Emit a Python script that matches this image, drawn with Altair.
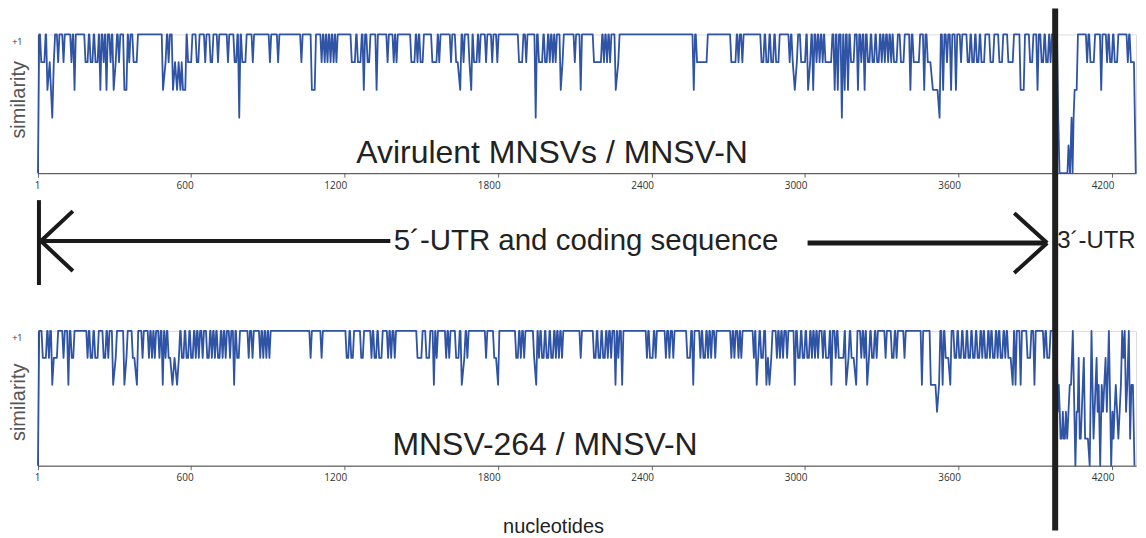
import altair as alt
import pandas as pd

# ---------------- data ----------------
tick_values = [1, 600, 1200, 1800, 2400, 3000, 3600, 4200]
x_domain = [1, 4294]
utr_boundary_nt = 3978

# (nucleotide, similarity) points where the similarity drops below +1
top_dips = [
    (1, 0), (14, .8), (20, .8), (26, .8), (38, .6), (47, .8), (57, .4), (63, .8), (80, .8), (101, .8), (132, .8), (144, .6),
    (187, .8), (195, .8), (207, .8), (214, .8), (226, .8), (234, .8), (245, .6), (258, .8), (269, .6), (285, .8), (297, .6),
    (305, .8), (318, .8), (339, .6), (347, .6), (358, .8), (375, .8), (381, .8), (387, .8),
    (490, .6), (500, .8), (512, .8), (529, .6), (537, .8), (545, .6), (551, .8), (558, .6), (563, .8), (568, .6), (577, .6),
    (588, .8), (594, .8), (600, .8), (622, .8), (628, .8), (655, .8), (676, .8), (682, .8), (705, .8), (744, .8), (770, .8),
    (776, .8), (788, .4), (800, .8), (806, .8), (812, .8), (841, .8), (908, .8), (940, .8),
    (1031, .8), (1072, .6), (1078, .6), (1083, .6), (1110, .8), (1122, .8), (1133, .8), (1145, .8), (1157, .8), (1168, .8),
    (1228, .8), (1234, .8), (1240, .8), (1252, .8), (1262, .8), (1275, .6), (1290, .8), (1296, .8), (1325, .6), (1368, .8),
    (1392, .8), (1403, .8), (1461, .8), (1467, .8), (1473, .8), (1485, .8), (1497, .8), (1505, .8), (1543, .8), (1549, .8),
    (1559, .8), (1570, .8), (1616, .8), (1636, .8), (1642, .8), (1652, .6), (1665, .8), (1688, .8), (1695, .6), (1706, .8),
    (1716, .8), (1727, .8), (1753, .8), (1777, .8), (1797, .8), (1882, .8), (1888, .8), (1894, .8), (1910, .8), (1947, .4),
    (1960, .8), (1966, .8), (1972, .8), (1984, .8), (1990, .8), (2002, .8), (2014, .8), (2025, .8), (2045, .6), (2052, .8),
    (2100, .8), (2123, .6), (2175, .8), (2181, .8), (2187, .8), (2193, .8), (2202, .8), (2214, .8), (2226, .8), (2238, .8),
    (2260, .6), (2270, .8), (2565, .6), (2578, .8), (2584, .8), (2590, .8), (2596, .8), (2603, .8), (2609, .8), (2615, .8),
    (2712, .8), (2718, .8), (2728, .8), (2740, .8), (2755, .8), (2830, .8), (2837, .8), (2849, .8), (2856, .8), (2868, .8),
    (2875, .8), (2887, .8), (2896, .8), (2940, .8), (2952, .8), (2960, .6), (2968, .8), (2985, .8), (2991, .8), (3000, .8),
    (3012, .6), (3020, .8), (3032, .6), (3045, .8), (3057, .8), (3069, .8), (3080, .8), (3090, .8), (3096, .8), (3102, .8),
    (3116, .6), (3128, .6), (3144, .4), (3155, .6), (3168, .6), (3180, .8), (3190, .8), (3207, .6), (3220, .8), (3233, .6),
    (3246, .8), (3252, .8), (3264, .8), (3270, .8), (3282, .8), (3288, .8), (3300, .8), (3312, .8), (3325, .8), (3337, .8),
    (3348, .8), (3358, .8), (3375, .8), (3385, .8), (3412, .6), (3425, .8), (3435, .8), (3445, .8), (3466, .6), (3480, .8),
    (3490, .8), (3500, .6), (3506, .6), (3512, .6), (3518, .6), (3526, .4), (3540, .6), (3555, .8), (3571, .6), (3590, .6),
    (3610, .8), (3636, .8), (3642, .8), (3654, .8), (3660, .8), (3672, .8), (3678, .8), (3690, .8), (3700, .8), (3725, .8),
    (3735, .8), (3760, .8), (3770, .8), (3795, .8), (3805, .8), (3812, .8), (3843, .6), (3849, .6), (3855, .6), (3880, .8),
    (3888, .8), (3909, .6), (3925, .8), (3931, .8), (3943, .8), (3949, .8), (3960, .8),
    (3990, .4), (3995, 0), (4002, 0), (4010, 0), (4018, 0), (4026, 0), (4030, .2), (4036, 0), (4042, .4), (4046, 0),
    (4050, .4), (4054, .6), (4062, .6), (4103, .8), (4116, .8), (4122, .8), (4129, .8), (4158, .6), (4181, .8), (4193, .8),
    (4199, .8), (4211, .8), (4220, .8), (4262, .8), (4274, .8), (4281, .8), (4286, .8), (4293, 0),
]

bottom_dips = [
    (1, 0), (20, .8), (26, .8), (32, .8), (44, .8), (57, .6), (63, .8), (69, .8), (75, .8), (101, .8), (120, .6), (133, .8),
    (139, .8), (195, .8), (207, .8), (213, .8), (225, .8), (234, .8), (258, .8), (264, .8), (276, .8), (295, .6), (305, .8),
    (339, .6), (347, .8), (372, .8), (378, .8), (388, .6), (410, .8), (435, .8), (447, .8), (458, .8), (476, .8), (489, .6),
    (500, .8), (512, .8), (518, .8), (527, .6), (535, .8), (545, .6), (552, .8), (564, .8), (570, .8), (582, .8), (588, .8),
    (600, .8), (606, .8), (618, .8), (630, .8), (645, .8), (663, .8), (669, .8), (681, .8), (693, .8), (705, .8), (711, .8),
    (723, .8), (735, .8), (752, .8), (768, .6), (780, .8), (786, .8), (825, .8), (840, .8), (870, .8), (882, .8), (894, .8),
    (906, .8), (1067, .8), (1110, .8), (1208, .8), (1214, .8), (1226, .8), (1232, .8), (1265, .8), (1271, .8), (1305, .8),
    (1317, .8), (1323, .8), (1335, .8), (1344, .8), (1370, .8), (1382, .8), (1396, .8), (1485, .8), (1491, .8), (1500, .8),
    (1520, .8), (1530, .8), (1549, .6), (1560, .8), (1597, .8), (1609, .8), (1636, .8), (1645, .8), (1658, .6), (1668, .8),
    (1680, .8), (1753, .8), (1785, .8), (1792, .8), (1800, .6), (1871, .8), (1877, .8), (1889, .8), (1902, .8), (1941, .8),
    (1949, .6), (1960, .8), (1972, .8), (1978, .8), (1990, .8), (1996, .8), (2008, .8), (2014, .8), (2026, .8), (2038, .8),
    (2050, .8), (2123, .8), (2175, .8), (2181, .8), (2193, .8), (2199, .8), (2211, .8), (2217, .8), (2229, .8), (2242, .8),
    (2259, .6), (2270, .8), (2285, .6), (2382, .8), (2394, .8), (2404, .8), (2416, .8), (2456, .8), (2470, .8), (2485, .8),
    (2540, .8), (2550, .8), (2563, .6), (2591, .8), (2603, .8), (2609, .8), (2621, .8), (2633, .8), (2649, .8), (2712, .8),
    (2724, .8), (2740, .8), (2751, .8), (2800, .8), (2811, .6), (2817, .8), (2829, .8), (2835, .8), (2849, .6), (2855, .8),
    (2861, .6), (2868, .8), (2890, .8), (2902, .8), (2914, .8), (2930, .8), (2960, .6), (2973, .8), (2979, .8), (2991, .8),
    (2997, .8), (3009, .8), (3015, .8), (3027, .8), (3039, .8), (3051, .8), (3070, .8), (3082, .8), (3092, .8), (3103, .6),
    (3120, .8), (3132, .8), (3142, .8), (3150, .8), (3161, .6), (3170, .8), (3182, .8), (3190, .8), (3200, .6), (3220, .8),
    (3232, .8), (3243, .6), (3250, .8), (3262, .8), (3268, .8), (3280, .8), (3315, .8), (3340, .8), (3346, .8), (3358, .8),
    (3389, .8), (3457, .6), (3492, .6), (3498, .6), (3504, .6), (3510, .6), (3516, .4), (3524, .6), (3538, .6), (3550, .8),
    (3560, .8), (3568, .6), (3585, .8), (3591, .8), (3603, .8), (3609, .8), (3621, .8), (3627, .8), (3639, .8), (3645, .8),
    (3657, .8), (3663, .8), (3675, .8), (3681, .8), (3693, .8), (3705, .8), (3711, .8), (3723, .8), (3735, .8), (3741, .8),
    (3753, .8), (3765, .8), (3771, .8), (3783, .8), (3795, .8), (3804, .8), (3812, .6), (3823, .6), (3843, .6), (3870, .8),
    (3880, .8), (3897, .6), (3935, .8), (3947, .8), (3955, .8),
    (3988, .4), (3992, .6), (3996, .4), (3999, .2), (4004, .2), (4008, .4), (4012, .2), (4016, .2), (4020, .4),
    (4025, .2), (4030, .4), (4035, .6), (4040, .6), (4047, 1), (4057, 0), (4062, .4), (4066, .4), (4070, .8), (4074, .2),
    (4078, .2), (4082, .4), (4086, .6), (4090, .8), (4095, .2), (4100, .2), (4106, .2), (4113, 0), (4120, 1), (4124, .6),
    (4128, .2), (4132, .4), (4136, .6), (4140, .8), (4144, .4), (4148, .6), (4154, 0), (4160, .6), (4165, .4), (4170, .6),
    (4175, .8), (4180, .4), (4188, 1), (4197, 0), (4202, .4), (4206, .2), (4210, .4), (4215, .6), (4220, .4), (4225, .2),
    (4230, .4), (4235, .6), (4240, 1), (4245, .8), (4250, 1), (4255, .4), (4260, .6), (4266, 1), (4271, .2), (4276, .6),
    (4282, .6), (4288, 0),
]

top_label = "Avirulent MNSVs / MNSV-N"
bottom_label = "MNSV-264 / MNSV-N"
middle_label = "5´-UTR and coding sequence"
utr3_label = "3´-UTR"
y_title = "similarity"
x_title = "nucleotides"


def series(dips):
    """Similarity stays at +1 between the listed dips."""
    xs, ys = [], []
    prev = None
    for n, v in dips:
        if prev is not None and n - prev > 10:
            xs += [prev + 5, n - 5]
            ys += [1.0, 1.0]
        xs.append(n)
        ys.append(v)
        prev = n
    return pd.DataFrame({"nt": xs, "sim": ys})


W = 1100
H_TOP = 139
H_BOT = 135
LINE_COLOR = "#2f53a5"
FONT = "Liberation Sans"


def panel(dips, height, label, label_x, label_y, title_y, show_x_title):
    df = series(dips)
    x_axis = alt.Axis(
        values=tick_values, format="d", grid=False, domainColor="#444", tickColor="#666", tickSize=4,
        labelFont="Open Sans", labelFontSize=10, labelColor="#333", labelPadding=3,
        labelFlush=False, labelAlign="right", labelOffset=2,
        title=x_title if show_x_title else None,
        **({"titleFont": FONT, "titleFontSize": 20, "titleFontWeight": "normal", "titleColor": "#222",
            "titleX": 516, "titleY": 67, "titleBaseline": "alphabetic", "titleAnchor": None}
           if show_x_title else {}),
    )
    y_axis = alt.Axis(
        values=[1], labelExpr="'+1'", grid=False, ticks=False, domainColor="#2a2f45",
        labelFont="Open Sans", labelFontSize=9, labelColor="#333", labelPadding=16, labelOffset=7,
        title=y_title, titleFont=FONT, titleFontSize=20, titleFontWeight="normal", titleColor="#555",
        titleX=-19, titleY=title_y, titleAngle=-90, titleBaseline="middle", titleAlign="center",
    )
    line = alt.Chart(df).mark_line(color=LINE_COLOR, strokeWidth=1.8, strokeJoin="round").encode(
        x=alt.X("nt:Q", scale=alt.Scale(domain=x_domain, nice=False, zero=False), axis=x_axis),
        y=alt.Y("sim:Q", scale=alt.Scale(domain=[0, 1], nice=False), axis=y_axis),
        order="nt:Q",
    )
    txt = alt.Chart(pd.DataFrame({"t": [label]})).mark_text(
        font=FONT, fontSize=32, color="#222", align="center", baseline="alphabetic"
    ).encode(text="t:N", x=alt.value(label_x), y=alt.value(label_y))
    return alt.layer(line, txt).properties(width=W, height=height)


top = panel(top_dips, H_TOP, top_label, 515, 129, 65, False)

bottom_base = panel(bottom_dips, H_BOT, bottom_label, 508, 124, 71, True)

# ---- annotation between the panels (pixel offsets relative to the lower panel) ----
ANN = "#1a1a1a"
seg = pd.DataFrame({
    "x": [1, 3, 3, 3, 771, 1011, 1011],
    "x2": [1, 353, 35, 35, 1011, 978, 978],
    "y": [-131, -90, -90, -90, -88, -88, -88],
    "y2": [-46, -90, -120, -60, -88, -118, -58],
    "w": [4, 4, 4, 4, 5, 4, 4],
})
segs = alt.Chart(seg).mark_rule(color=ANN, strokeCap="butt").encode(
    x=alt.X("x:Q", scale=None), x2="x2:Q", y=alt.Y("y:Q", scale=None), y2="y2:Q",
    strokeWidth=alt.StrokeWidth("w:Q", scale=None, legend=None),
)
mid_text = alt.Chart(pd.DataFrame({"t": [middle_label]})).mark_text(
    font=FONT, fontSize=29.5, color="#222", align="center", baseline="middle"
).encode(text="t:N", x=alt.value(549), y=alt.value(-90))
utr_text = alt.Chart(pd.DataFrame({"t": [utr3_label]})).mark_text(
    font=FONT, fontSize=24, color="#222", align="left", baseline="middle"
).encode(text="t:N", x=alt.value(1021), y=alt.value(-90))
boundary = alt.Chart(pd.DataFrame({"nt": [utr_boundary_nt]})).mark_rule(color="#1f1f1f", strokeWidth=6).encode(
    x=alt.X("nt:Q", scale=alt.Scale(domain=x_domain, nice=False, zero=False)),
    y=alt.value(-323), y2=alt.value(200),
)

bottom = alt.layer(bottom_base, segs, mid_text, utr_text, boundary).properties(width=W, height=H_BOT)

chart = alt.vconcat(top, bottom, spacing=158, bounds="flush").properties(
    padding={"left": 0, "top": -4, "right": 0, "bottom": 0}
).configure_view(stroke=None).configure(background="white")

chart.save("out.html", embed_options={"renderer": "svg", "actions": False})
